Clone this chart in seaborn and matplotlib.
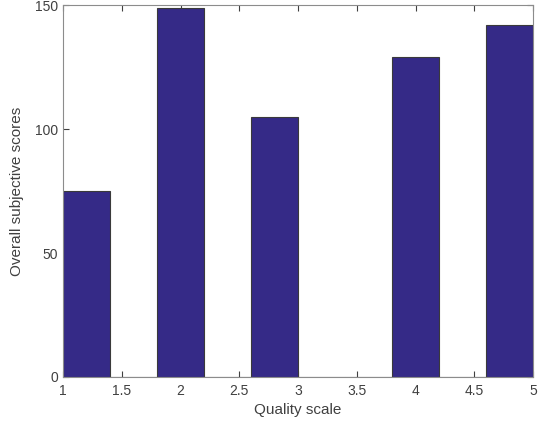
import numpy as np
import pandas as pd
import matplotlib
matplotlib.use("Agg")
import matplotlib.pyplot as plt
import seaborn as sns

# histogram of quality ratings (10 bins between 1 and 5)
bin_centers = [1.2, 1.6, 2.0, 2.4, 2.8, 3.2, 3.6, 4.0, 4.4, 4.8]
counts = [75, 0, 149, 0, 105, 0, 0, 129, 0, 142]
bin_edges = [1.0, 1.4, 1.8, 2.2, 2.6, 3.0, 3.4, 3.8, 4.2, 4.6, 5.0]
x_ticks = [1, 1.5, 2, 2.5, 3, 3.5, 4, 4.5, 5]
x_tick_labels = ["1", "1.5", "2", "2.5", "3", "3.5", "4", "4.5", "5"]
y_ticks = [0, 50, 100, 150]

df = pd.DataFrame({'quality': bin_centers, 'count': counts})

sns.set_style("white")
plt.rcParams['font.family'] = ['Liberation Sans', 'DejaVu Sans']
text_color = '#404040'

fig = plt.figure(figsize=(5.39, 4.25), dpi=100)
ax = fig.add_axes([0.117, 0.113, 0.872, 0.875])

sns.histplot(data=df, x='quality', weights='count', bins=bin_edges, ax=ax,
             color='#352a87', alpha=1.0, edgecolor='#3a3a3a', linewidth=0.8)

ax.set_xlim(1, 5)
ax.set_ylim(0, 150)
ax.set_xticks(x_ticks)
ax.set_xticklabels(x_tick_labels)
ax.set_yticks(y_ticks)
ax.tick_params(direction='in', length=4, width=0.8, colors=text_color,
               labelsize=10, top=True, right=True, bottom=True, left=True)
ax.tick_params(axis='x', pad=5)
for side in ['top', 'bottom', 'left', 'right']:
    ax.spines[side].set_visible(True)
    ax.spines[side].set_color('#8c8c8c')
    ax.spines[side].set_linewidth(0.8)

ax.set_xlabel('Quality scale', color=text_color, fontsize=11, labelpad=4)
ax.set_ylabel('Overall subjective scores', color=text_color, fontsize=11, labelpad=8)

fig.savefig('out.png', dpi=100)
